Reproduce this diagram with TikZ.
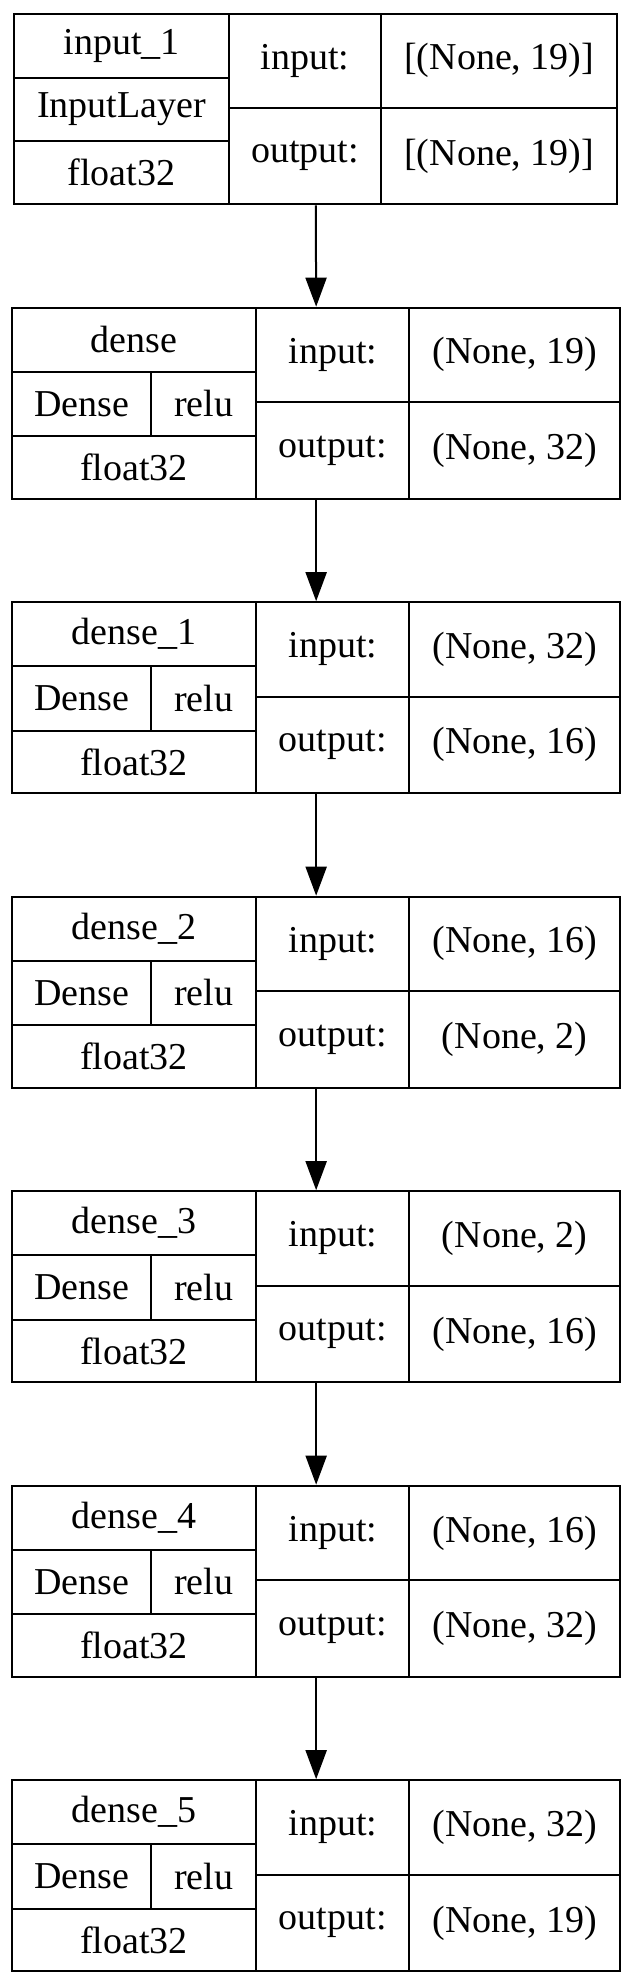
\documentclass[tikz,border=0pt]{standalone}
\usepackage{fontspec}
\setmainfont{Liberation Serif}
\usetikzlibrary{arrows.meta}
\newcommand{\layerfont}{\fontsize{38}{42}\selectfont}
\tikzset{
  cell/.style={draw, line width=2pt, rectangle, inner sep=0pt, anchor=north west, font=\layerfont},
  frame/.style={draw, line width=2pt, rectangle, inner sep=0pt, anchor=north west},
  flow/.style={-{Triangle[length=29pt,width=21pt]}, line width=2pt},
}
% one Dense layer: #1 id, #2 top, #3 name, #4 input shape, #5 output shape
\newcommand{\denselayer}[5]{
\node[frame, minimum width=608.3pt, minimum height=191pt] (#1) at (11,#2) {};
\node[cell, minimum width=244.3pt, minimum height=64pt] (#1-name) at (11,#2) {#3};
\node[cell, minimum width=139pt, minimum height=64.3pt] (#1-cls) at (11,{#2+64}) {Dense};
\node[cell, minimum width=105.3pt, minimum height=64.3pt] (#1-act) at (150,{#2+64}) {relu};
\node[cell, minimum width=244.3pt, minimum height=62.7pt] (#1-dt) at (11,{#2+128.3}) {float32};
\node[cell, minimum width=153pt, minimum height=94.3pt] (#1-inl) at (255.3,#2) {input:};
\node[cell, minimum width=153pt, minimum height=96.7pt] (#1-outl) at (255.3,{#2+94.3}) {output:};
\node[cell, minimum width=211pt, minimum height=94.3pt] (#1-inv) at (408.3,#2) {#4};
\node[cell, minimum width=211pt, minimum height=96.7pt] (#1-outv) at (408.3,{#2+94.3}) {#5};
}
\begin{document}
\begin{tikzpicture}[x=1pt, y=-1pt]
\useasboundingbox (0,0) rectangle (631,1983);
% input layer
\node[frame, minimum width=603pt, minimum height=190.6pt] (input1) at (13.3,12.7) {};
\node[cell, minimum width=214.4pt, minimum height=64pt] (input1-name) at (13.3,12.7) {input\_1};
\node[cell, minimum width=214.4pt, minimum height=63.3pt] (input1-cls) at (13.3,76.7) {InputLayer};
\node[cell, minimum width=214.4pt, minimum height=63.3pt] (input1-dt) at (13.3,140) {float32};
\node[cell, minimum width=152.6pt, minimum height=94pt] (input1-inl) at (227.7,12.7) {input:};
\node[cell, minimum width=152.6pt, minimum height=96.6pt] (input1-outl) at (227.7,106.7) {output:};
\node[cell, minimum width=236pt, minimum height=94pt] (input1-inv) at (380.3,12.7) {[(None, 19)]};
\node[cell, minimum width=236pt, minimum height=96.6pt] (input1-outv) at (380.3,106.7) {[(None, 19)]};
% dense layers
\denselayer{dense}{306.7}{dense}{(None, 19)}{(None, 32)}
\denselayer{dense1}{601.2}{dense\_1}{(None, 32)}{(None, 16)}
\denselayer{dense2}{895.7}{dense\_2}{(None, 16)}{(None, 2)}
\denselayer{dense3}{1190.2}{dense\_3}{(None, 2)}{(None, 16)}
\denselayer{dense4}{1484.7}{dense\_4}{(None, 16)}{(None, 32)}
\denselayer{dense5}{1779.2}{dense\_5}{(None, 32)}{(None, 19)}
% connections
\draw[flow] (input1.south) -- (dense.north);
\draw[flow] (dense.south) -- (dense1.north);
\draw[flow] (dense1.south) -- (dense2.north);
\draw[flow] (dense2.south) -- (dense3.north);
\draw[flow] (dense3.south) -- (dense4.north);
\draw[flow] (dense4.south) -- (dense5.north);
\end{tikzpicture}
\end{document}
